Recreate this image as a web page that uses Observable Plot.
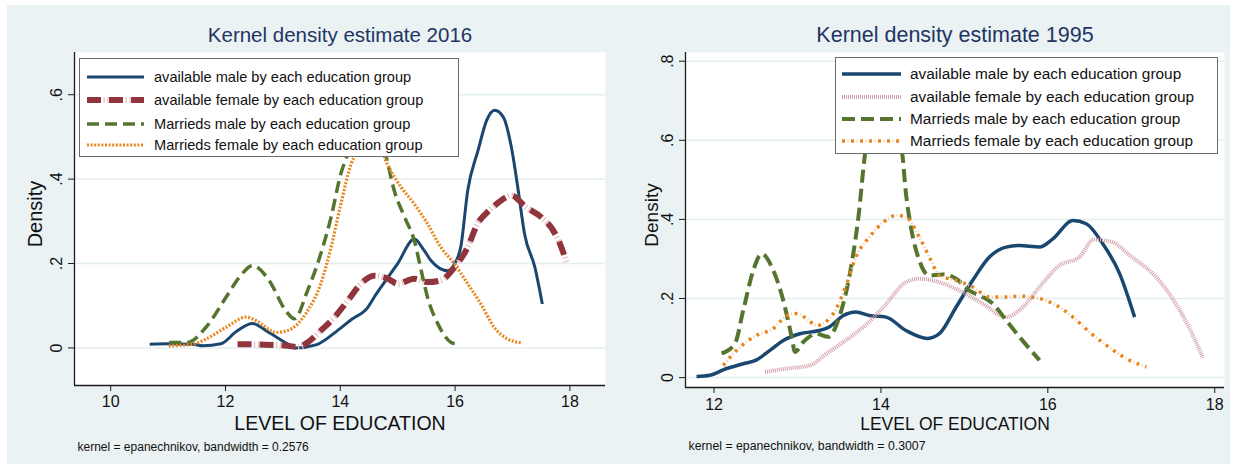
<!DOCTYPE html>
<html><head><meta charset="utf-8">
<script src="https://cdn.jsdelivr.net/npm/d3@7"></script>
<script src="https://cdn.jsdelivr.net/npm/@observablehq/plot@0.6"></script>
<style>
body{margin:0;background:#fff;font-family:"Liberation Sans",Arial,sans-serif;}
#wrap{position:relative;width:1233px;height:468px;overflow:hidden;}
.bg{position:absolute;left:7px;top:5px;width:1223px;height:459px;background:#eaf2f3;}
.panel{position:absolute;top:5px;height:459px;}
.panel svg{position:absolute;left:0;top:0;}
.legend{position:absolute;background:#fff;border:1px solid #6b6b6b;box-sizing:border-box;}
.legend svg{position:absolute;left:0;top:0;}
</style>
</head><body>
<div id="wrap"><div class="bg"></div></div>
<script>
// ---------- data ----------
const seriesNames = [
  "available male by each education group",
  "available female by each education group",
  "Marrieds male by each education group",
  "Marrieds female by each education group"
];
const titles = ["Kernel density estimate 2016", "Kernel density estimate 1995"];
const captions = ["kernel = epanechnikov, bandwidth = 0.2576", "kernel = epanechnikov, bandwidth = 0.3007"];
const xLabel = "LEVEL OF EDUCATION";
const yLabel = "Density";
const xTicks16 = [10, 12, 14, 16, 18];
const yTicks16 = [0, 0.2, 0.4, 0.6];
const xTicks95 = [12, 14, 16, 18];
const yTicks95 = [0, 0.2, 0.4, 0.6, 0.8];

// 2016
const availMale16X = [10.68, 11.0, 11.43, 11.6, 11.92, 12.2, 12.47, 12.75, 13.08, 13.22, 13.59, 13.95, 14.2, 14.48, 14.59, 14.83, 15.0, 15.29, 15.46, 15.58, 15.87, 15.99, 16.1, 16.22, 16.4, 16.55, 16.69, 16.84, 16.98, 17.1, 17.21, 17.39, 17.52];
const availMale16Y = [0.009, 0.01, 0.009, 0.005, 0.01, 0.04, 0.058, 0.037, 0.01, 0.0, 0.008, 0.041, 0.068, 0.096, 0.12, 0.167, 0.2, 0.258, 0.231, 0.207, 0.183, 0.199, 0.24, 0.373, 0.468, 0.539, 0.563, 0.547, 0.476, 0.373, 0.27, 0.191, 0.104];
const availFemale16X = [12.21, 12.6, 13.08, 13.26, 13.43, 13.66, 13.9, 14.13, 14.36, 14.59, 14.83, 15.0, 15.29, 15.52, 15.75, 15.99, 16.22, 16.39, 16.55, 16.72, 16.98, 17.24, 17.5, 17.71, 17.85, 17.94];
const availFemale16Y = [0.009, 0.008, 0.005, 0.002, 0.013, 0.041, 0.073, 0.112, 0.152, 0.171, 0.164, 0.152, 0.164, 0.156, 0.16, 0.191, 0.239, 0.294, 0.32, 0.341, 0.361, 0.333, 0.31, 0.278, 0.239, 0.203];
const marriedMale16X = [11.02, 11.34, 11.66, 12.01, 12.24, 12.47, 12.76, 13.05, 13.2, 13.43, 13.66, 13.84, 14.01, 14.13, 14.45, 14.8, 14.94, 15.12, 15.29, 15.41, 15.52, 15.7, 15.93, 16.0];
const marriedMale16Y = [0.013, 0.013, 0.049, 0.12, 0.167, 0.195, 0.16, 0.088, 0.069, 0.136, 0.223, 0.31, 0.413, 0.46, 0.6, 0.452, 0.373, 0.31, 0.254, 0.183, 0.12, 0.057, 0.013, 0.01];
const marriedFemale16X = [11.01, 11.43, 11.66, 12.01, 12.36, 12.53, 12.88, 13.08, 13.43, 13.66, 13.84, 14.01, 14.19, 14.38, 14.6, 14.83, 15.06, 15.29, 15.52, 15.75, 15.99, 16.22, 16.45, 16.68, 16.92, 17.17];
const marriedFemale16Y = [0.005, 0.009, 0.021, 0.049, 0.073, 0.065, 0.037, 0.041, 0.088, 0.152, 0.239, 0.341, 0.436, 0.475, 0.5, 0.432, 0.381, 0.341, 0.294, 0.239, 0.199, 0.152, 0.104, 0.049, 0.021, 0.012];

// 1995
const availMale95X = [11.79, 11.95, 12.15, 12.35, 12.51, 12.67, 12.83, 13.03, 13.26, 13.38, 13.55, 13.7, 13.86, 14.06, 14.3, 14.56, 14.7, 14.9, 15.1, 15.3, 15.5, 15.66, 15.9, 16.06, 16.3, 16.46, 16.66, 16.86, 17.04];
const availMale95Y = [0.003, 0.006, 0.023, 0.035, 0.045, 0.069, 0.094, 0.111, 0.119, 0.128, 0.157, 0.166, 0.157, 0.153, 0.119, 0.099, 0.111, 0.178, 0.246, 0.305, 0.33, 0.334, 0.33, 0.351, 0.397, 0.389, 0.338, 0.263, 0.153];
const availFemale95X = [12.61, 12.87, 13.15, 13.35, 13.55, 13.79, 14.03, 14.3, 14.46, 14.7, 14.98, 15.22, 15.5, 15.7, 15.9, 16.14, 16.38, 16.55, 16.78, 16.97, 17.34, 17.63, 17.86];
const availFemale95Y = [0.014, 0.023, 0.031, 0.061, 0.09, 0.128, 0.178, 0.241, 0.25, 0.241, 0.216, 0.187, 0.153, 0.178, 0.229, 0.284, 0.305, 0.349, 0.342, 0.311, 0.244, 0.152, 0.05];
const marriedMale95X = [12.09, 12.25, 12.35, 12.47, 12.57, 12.71, 12.83, 12.93, 12.97, 13.07, 13.23, 13.37, 13.5, 13.62, 13.73, 13.81, 14.03, 14.25, 14.3, 14.36, 14.46, 14.58, 14.74, 14.9, 15.06, 15.22, 15.34, 15.5, 15.66, 15.9];
const marriedMale95Y = [0.061, 0.086, 0.17, 0.271, 0.313, 0.271, 0.195, 0.103, 0.065, 0.09, 0.111, 0.103, 0.153, 0.254, 0.406, 0.566, 0.74, 0.576, 0.465, 0.38, 0.296, 0.258, 0.261, 0.25, 0.22, 0.204, 0.187, 0.145, 0.103, 0.044];
const marriedFemale95X = [12.11, 12.27, 12.51, 12.71, 12.87, 12.99, 13.11, 13.23, 13.43, 13.59, 13.7, 13.86, 14.03, 14.18, 14.3, 14.46, 14.58, 14.7, 14.9, 15.1, 15.3, 15.5, 15.66, 15.9, 16.1, 16.3, 16.5, 16.7, 16.94, 17.18];
const marriedFemale95Y = [0.031, 0.069, 0.107, 0.124, 0.156, 0.162, 0.149, 0.132, 0.162, 0.237, 0.305, 0.355, 0.393, 0.41, 0.406, 0.355, 0.305, 0.258, 0.246, 0.229, 0.204, 0.204, 0.206, 0.2, 0.183, 0.153, 0.115, 0.082, 0.048, 0.027];

// ---------- styles ----------
const FONT = '"Liberation Sans", Arial, Helvetica, sans-serif';
const NAVY = "#1a476f", MAROON = "#90353b", GREEN = "#55752f", ORANGE = "#e8871e", TITLE = "#1f3563";
const styles16 = [
  [{stroke: NAVY, strokeWidth: 3}],
  [{stroke: MAROON, strokeWidth: 6, strokeDasharray: "14,8"}, {stroke: "#e7bcc2", strokeWidth: 6, strokeDasharray: "0,16.5,1.2,2.6,1.2,0.5"}],
  [{stroke: GREEN, strokeWidth: 3.5, strokeDasharray: "12,6"}],
  [{stroke: ORANGE, strokeWidth: 3.2, strokeDasharray: "2,1.6"}]
];
const styles95 = [
  [{stroke: NAVY, strokeWidth: 3.5}],
  [{stroke: "#d3a0a8", strokeWidth: 4, strokeDasharray: "1,1"}],
  [{stroke: GREEN, strokeWidth: 4, strokeDasharray: "13,6"}],
  [{stroke: ORANGE, strokeWidth: 3.5, strokeDasharray: "3,6"}, {stroke: "#f2c9a2", strokeWidth: 3, strokeDasharray: "0,5.5,1,2.5"}]
];

const toRows = (xs, ys) => xs.map((x, i) => ({x, y: ys[i]}));
const fmtY = d => d === 0 ? "0" : String(d).replace(/^0\./, ".");
const fmtX = d => String(d);

function makePanel(cfg) {
  const lineMarks = [];
  cfg.series.forEach((rows, i) => {
    cfg.styles[i].forEach(st => {
      lineMarks.push(Plot.line(rows, {x: "x", y: "y", curve: "monotone-x", strokeLinecap: "butt", strokeLinejoin: "round", ...st}));
    });
  });
  const T = {lineAnchor: "middle", fill: "#111"};
  return Plot.plot({
    width: cfg.width, height: 459,
    marginLeft: cfg.mL, marginRight: cfg.mR, marginTop: cfg.mT, marginBottom: cfg.mB,
    style: {background: "transparent", fontFamily: FONT, color: "#111", overflow: "visible"},
    x: {domain: cfg.xDomain},
    y: {domain: cfg.yDomain},
    marks: [
      Plot.frame({fill: "white", stroke: null}),
      Plot.gridY({ticks: cfg.yTicks, stroke: "#e3eef1", strokeOpacity: 1, strokeWidth: 1.5}),
      Plot.ruleX([cfg.xDomain[0]], {stroke: "#1b1b1b", strokeWidth: 1.3}),
      Plot.ruleY([cfg.yDomain[0]], {stroke: "#1b1b1b", strokeWidth: 1.3}),
      Plot.axisY({ticks: cfg.yTicks, tickSize: 6, tickFormat: () => "", label: null, stroke: "#1b1b1b"}),
      Plot.text(cfg.yTicks, {...T, y: d => d, text: fmtY, frameAnchor: "left", textAnchor: "middle", rotate: -90, dx: -18, fontSize: cfg.tickFont}),
      Plot.axisX({ticks: cfg.xTicks, tickFormat: fmtX, tickSize: 6, tickPadding: cfg.tickPad, fontSize: cfg.tickFont, label: null, stroke: "#1b1b1b", fill: "#111"}),
      Plot.text([yLabel], {...T, text: d => d, frameAnchor: "left", textAnchor: "middle", rotate: -90, dx: cfg.yLabDx, dy: -5, fontSize: cfg.yLabFont}),
      Plot.text([xLabel], {...T, text: d => d, frameAnchor: "bottom", textAnchor: "middle", dy: cfg.xLabDy, fontSize: cfg.xLabFont}),
      Plot.text([cfg.title], {...T, text: d => d, frameAnchor: "top", textAnchor: "middle", dy: -17, fontSize: cfg.titleFont, fill: TITLE}),
      Plot.text([cfg.caption], {...T, text: d => d, frameAnchor: "bottom-left", textAnchor: "start", dx: 3, dy: cfg.capDy, fontSize: cfg.capFont}),
      ...lineMarks
    ]
  });
}

function makeLegend(cfg) {
  const div = document.createElement("div");
  div.className = "legend";
  Object.assign(div.style, {left: cfg.left + "px", top: cfg.top + "px", width: cfg.w + "px", height: cfg.h + "px"});
  const svg = d3.create("svg").attr("width", cfg.w).attr("height", cfg.h);
  seriesNames.forEach((name, i) => {
    const y = cfg.rows[i];
    cfg.styles[i].forEach(st => {
      svg.append("line").attr("x1", cfg.s0).attr("x2", cfg.s1).attr("y1", y).attr("y2", y)
        .attr("stroke", st.stroke).attr("stroke-width", st.strokeWidth)
        .attr("stroke-dasharray", st.strokeDasharray || null);
    });
    svg.append("text").attr("x", cfg.tx).attr("y", y).attr("dy", "0.35em")
      .attr("font-family", FONT).attr("font-size", cfg.font).attr("fill", "#111").text(name);
  });
  div.appendChild(svg.node());
  return div;
}

const wrap = document.getElementById("wrap");

// left panel (2016)
const p1 = document.createElement("div");
p1.className = "panel"; p1.style.left = "7px"; p1.style.width = "606px";
p1.appendChild(makePanel({
  width: 606, mL: 67, mR: 8, mT: 47, mB: 79,
  xDomain: [9.37, 18.62], yDomain: [-0.089, 0.70],
  xTicks: xTicks16, yTicks: yTicks16, tickFont: 16, tickPad: 4,
  yLabDx: -39, yLabFont: 20, xLabDy: 38, xLabFont: 19.5,
  title: titles[0], titleFont: 20.5, caption: captions[0], capDy: 62, capFont: 12,
  series: [toRows(availMale16X, availMale16Y), toRows(availFemale16X, availFemale16Y), toRows(marriedMale16X, marriedMale16Y), toRows(marriedFemale16X, marriedFemale16Y)],
  styles: styles16
}));
wrap.appendChild(p1);

// right panel (1995)
const p2 = document.createElement("div");
p2.className = "panel"; p2.style.left = "613px"; p2.style.width = "617px";
p2.appendChild(makePanel({
  width: 617, mL: 72, mR: 6, mT: 47, mB: 77,
  xDomain: [11.658, 18.117], yDomain: [-0.025, 0.822],
  xTicks: xTicks95, yTicks: yTicks95, tickFont: 16, tickPad: 5,
  yLabDx: -34, yLabFont: 19, xLabDy: 37, xLabFont: 17.5,
  title: titles[1], titleFont: 21.5, caption: captions[1], capDy: 59, capFont: 12.3,
  series: [toRows(availMale95X, availMale95Y), toRows(availFemale95X, availFemale95Y), toRows(marriedMale95X, marriedMale95Y), toRows(marriedFemale95X, marriedFemale95Y)],
  styles: styles95
}));
wrap.appendChild(p2);

// legends
wrap.appendChild(makeLegend({left: 79, top: 58, w: 380, h: 99, rows: [18, 41, 65, 86], s0: 7, s1: 64, tx: 74, font: 14.6, styles: styles16}));
wrap.appendChild(makeLegend({left: 835, top: 57, w: 383, h: 97, rows: [16, 39, 61, 83], s0: 6, s1: 65, tx: 74, font: 15.4, styles: styles95}));
</script>
</body></html>
